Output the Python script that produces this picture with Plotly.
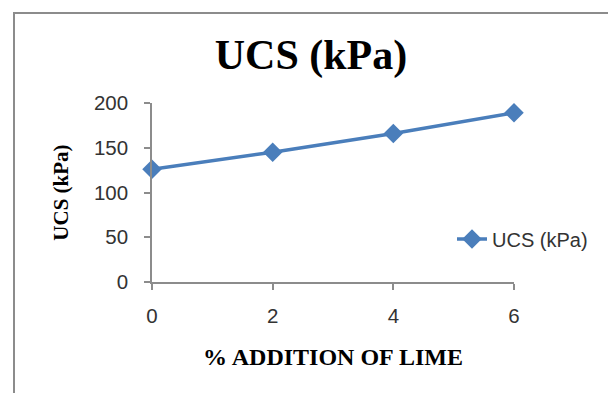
import plotly.graph_objects as go

lime_pct = [0, 2, 4, 6]
ucs_kpa = [126, 145, 166, 189]
series_name = "UCS (kPa)"
chart_title = "UCS (kPa)"
x_title = "% ADDITION OF LIME"
y_title = "UCS (kPa)"
y_ticks = [0, 50, 100, 150, 200]
x_ticks = [0, 2, 4, 6]

W, H = 608, 393
L, R, T, B = 152, 94, 103, 111
pw, ph = W - L - R, H - T - B

def px_x(p):
    return (p - L) / pw

def px_y(p):
    return 1 - (p - T) / ph

fig = go.Figure()
fig.add_trace(go.Scatter(
    x=lime_pct, y=ucs_kpa, name=series_name, mode="lines+markers",
    line=dict(color="#4A7EBB", width=3.5),
    marker=dict(symbol="diamond", size=15, color="#4A7EBB"),
    cliponaxis=False, showlegend=True,
))

axis_common = dict(
    showgrid=False, zeroline=False, showline=True, linecolor="#8C8C8C", linewidth=1.5,
    ticks="outside", ticklen=6, tickcolor="#8C8C8C", tickwidth=1.5,
    tickfont=dict(family="Liberation Sans", size=20.5, color="#333333"),
)

fig.update_layout(
    width=W, height=H, margin=dict(l=L, r=R, t=T, b=B),
    paper_bgcolor="white", plot_bgcolor="white",
    title=dict(text="<b>" + chart_title + "</b>", x=311 / W, xanchor="center",
               y=1 - 54 / H, yanchor="middle", yref="container",
               font=dict(family="Liberation Serif", size=42, color="black")),
    xaxis=dict(range=[0, 6], tickvals=x_ticks, ticklabelstandoff=9, **axis_common,
               title=dict(text="<b>" + x_title + "</b>", standoff=22,
                          font=dict(family="Liberation Serif", size=24, color="black"))),
    yaxis=dict(range=[0, 200], tickvals=y_ticks, ticklabelstandoff=12, **axis_common,
               title=dict(text="<b>" + y_title + "</b>", standoff=20,
                          font=dict(family="Liberation Serif", size=21, color="black"))),
    legend=dict(x=px_x(452), y=px_y(239), xanchor="left", yanchor="middle",
                bgcolor="rgba(0,0,0,0)", font=dict(family="Liberation Sans", size=20, color="#333333")),
    shapes=[dict(type="rect", xref="paper", yref="paper",
                 x0=px_x(14), x1=px_x(640), y0=px_y(420), y1=px_y(13),
                 line=dict(color="#8C8C8C", width=2), fillcolor="rgba(0,0,0,0)", layer="below")],
)

fig.write_html("out.html")
